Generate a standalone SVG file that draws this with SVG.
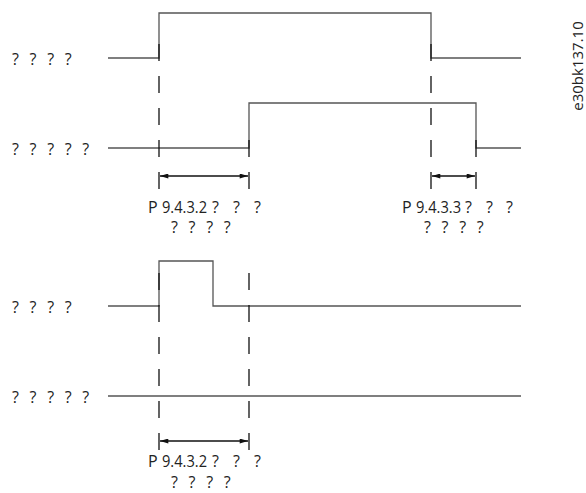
<svg xmlns="http://www.w3.org/2000/svg" width="586" height="493" viewBox="0 0 586 493">
<style>
.sig{fill:none;stroke:#555;stroke-width:1.3}
.dash{fill:none;stroke:#111;stroke-width:1.3;stroke-dasharray:17 15}
.dim{fill:none;stroke:#111;stroke-width:1.3;marker-start:url(#ah);marker-end:url(#ah)}
text{font-family:"Open Sans","Noto Sans",sans-serif;font-size:16px;fill:#222}
.q{word-spacing:6.5px}
.c{text-anchor:middle}
.id{font-size:15px}
</style>
<defs>
<marker id="ah" viewBox="0 0 10 6" refX="10" refY="3" markerWidth="10" markerHeight="5" markerUnits="userSpaceOnUse" orient="auto-start-reverse">
<path d="M0,0 L10,3 L0,6 z" fill="#111"/>
</marker>
</defs>
<rect width="586" height="493" fill="#fff"/>
<g id="labels">
<text class="q" x="12" y="65">? ? ? ?</text>
<text class="q" x="12" y="155">? ? ? ? ?</text>
<text class="q" x="12" y="313">? ? ? ?</text>
<text class="q" x="12" y="403">? ? ? ? ?</text>
<text class="id c" transform="translate(583,66) rotate(-90)">e30bk137.10</text>
</g>
<g id="signals">
<polyline id="s1" class="sig" points="108,58 159,58 159,13 431,13 431,58 521,58"/>
<polyline id="s2" class="sig" points="108,148 249,148 249,103 476,103 476,148 521,148"/>
<polyline id="s3" class="sig" points="108,306 159,306 159,261 213,261 213,306 521,306"/>
<line id="s4" class="sig" x1="108" y1="396" x2="521" y2="396"/>
</g>
<g id="connectors">
<line class="dash" x1="159" y1="44" x2="159" y2="189"/>
<line class="dash" x1="431" y1="44" x2="431" y2="189"/>
<line class="dash" x1="249" y1="140" x2="249" y2="189"/>
<line class="dash" x1="476" y1="140" x2="476" y2="189"/>
<line class="dim" x1="160" y1="176" x2="248" y2="176"/>
<line class="dim" x1="432" y1="176" x2="475" y2="176"/>
<line class="dash" x1="159" y1="273" x2="159" y2="450"/>
<line class="dash" x1="249" y1="273" x2="249" y2="450"/>
<line class="dim" x1="160" y1="441" x2="248" y2="441"/>
</g>
<g id="dimlabels">
<text y="213"><tspan x="148">P</tspan><tspan x="162" textLength="45" lengthAdjust="spacingAndGlyphs">9.4.3.2</tspan><tspan x="212">?</tspan><tspan x="233">?</tspan><tspan x="254">?</tspan></text>
<text class="q" x="171" y="233">? ? ? ?</text>
<text y="213"><tspan x="402">P</tspan><tspan x="416" textLength="45" lengthAdjust="spacingAndGlyphs">9.4.3.3</tspan><tspan x="465">?</tspan><tspan x="486">?</tspan><tspan x="506">?</tspan></text>
<text class="q" x="424" y="233">? ? ? ?</text>
<text y="467"><tspan x="148">P</tspan><tspan x="162" textLength="45" lengthAdjust="spacingAndGlyphs">9.4.3.2</tspan><tspan x="212">?</tspan><tspan x="233">?</tspan><tspan x="254">?</tspan></text>
<text class="q" x="171" y="488">? ? ? ?</text>
</g>
</svg>
